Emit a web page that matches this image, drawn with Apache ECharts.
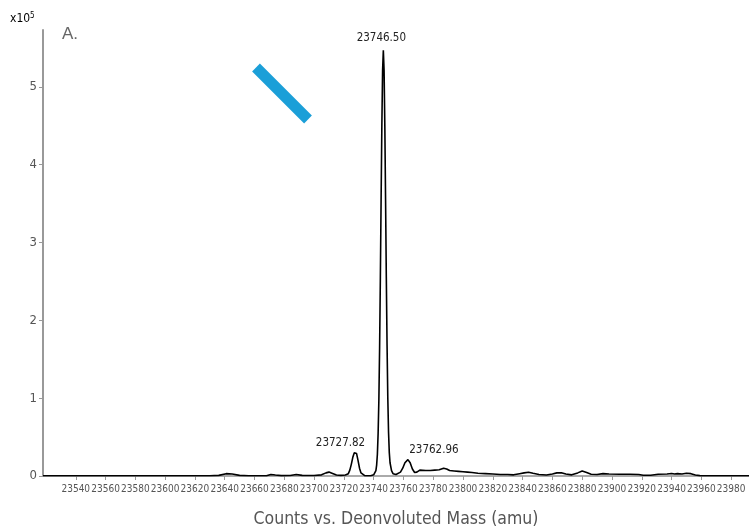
<!DOCTYPE html>
<html>
<head>
<meta charset="utf-8">
<script src="https://cdn.jsdelivr.net/npm/echarts@6/dist/echarts.min.js"></script>
<style>
html,body{margin:0;padding:0;background:#fff;}
#c{width:749px;height:527px;}
</style>
</head>
<body>
<div id="c"></div>
<script>
// Deconvoluted mass (amu)
const mass = [
23518,23630,23636,23641,23645,23650,23656,23668,23671,23674,23678,23684,23688,23692,23700,
23705,23708,23710,23712,23715,23718,23721,23722,23723,23724,23725,23726,23727,23727.8,23728.5,
23729.5,23730.5,23731.5,23732.5,23734,23736,23738,23740,23741,23741.5,23742,23742.5,23743,23743.5,
23744,23744.5,23745,23745.5,23746,23746.5,23747,23747.5,23748,23748.5,23749,23749.5,23750,23750.5,
23751,23752,23753,23755,23756,23758,23759.5,23761,23763,23764.5,23766,23767.5,23769,23771,23775,
23778,23781,23784,23787,23789,23791,23794,23797,23800,23803,23806,23810,23815,23820,23825,23830,
23834,23838,23841,23844,23847,23851,23856,23860,23863,23866,23869,23873,23877,23880,23883,23886,
23890,23894,23898,23905,23912,23918,23921,23926,23931,23937,23940,23942,23944,23947,23950,23953,
23956,23959,23970,23992
];
// Counts (x10^5)
const counts = [
0.003,0.003,0.008,0.03,0.025,0.008,0.004,0.004,0.02,0.012,0.005,0.006,0.02,0.008,0.006,
0.015,0.04,0.05,0.035,0.012,0.008,0.012,0.015,0.03,0.075,0.15,0.24,0.30,0.31,0.29,
0.20,0.10,0.04,0.015,0.005,0.004,0.004,0.015,0.04,0.07,0.14,0.28,0.55,0.98,
1.65,2.55,3.55,4.50,5.21,5.47,5.21,4.50,3.55,2.55,1.68,1.00,0.56,0.30,
0.17,0.07,0.03,0.02,0.02,0.05,0.10,0.17,0.21,0.17,0.09,0.045,0.05,0.075,0.07,
0.07,0.075,0.08,0.10,0.09,0.07,0.065,0.06,0.055,0.05,0.045,0.035,0.03,0.025,0.02,0.02,
0.015,0.03,0.04,0.048,0.035,0.02,0.012,0.025,0.04,0.042,0.025,0.015,0.04,0.065,0.045,0.022,
0.02,0.03,0.025,0.022,0.022,0.02,0.01,0.01,0.022,0.025,0.033,0.025,0.03,0.025,0.035,0.03,
0.012,0.005,0.004,0.004
];
// Labelled peaks
const peakMass = [23746.5, 23727.8, 23763];
const peakCounts = [5.47, 0.31, 0.21];
const peakLabels = ['23746.50', '23727.82', '23762.96'];
// Axis ticks
const xTicks = [23540,23560,23580,23600,23620,23640,23660,23680,23700,23720,23740,23760,23780,23800,23820,23840,23860,23880,23900,23920,23940,23960,23980];
const yTicks = [0,1,2,3,4,5];

const FONT = '"DejaVu Sans Condensed","Liberation Sans Narrow",sans-serif';
const labelOffsets = [[-2,-12],[-15,-9],[26,-10]];

const chart = echarts.init(document.getElementById('c'));
chart.setOption({
  animation: false,
  grid: {left: 43, right: 0, top: 30, bottom: 51, outerBoundsMode: 'none', containLabel: false},
  xAxis: {
    type: 'value', min: 23518, max: 23992, offset: 3,
    name: 'Counts vs. Deonvoluted Mass (amu)', nameLocation: 'middle', nameGap: 31,
    nameTextStyle: {fontFamily: FONT, fontSize: 17.5, color: '#555'},
    axisLine: {lineStyle: {color: '#aaa', width: 2}},
    axisTick: {show: true, customValues: xTicks, length: 4, lineStyle: {color: '#999'}},
    axisLabel: {customValues: xTicks, formatter: v => String(v), hideOverlap: false,
      showMinLabel: true, showMaxLabel: true,
      fontFamily: FONT, fontSize: 10, color: '#555', margin: 5},
    splitLine: {show: false}
  },
  yAxis: {
    type: 'value', min: 0, max: 5.73,
    axisLine: {show: true, lineStyle: {color: '#999', width: 2}},
    axisTick: {show: true, customValues: yTicks, length: 4, lineStyle: {color: '#999'}},
    axisLabel: {customValues: yTicks, fontFamily: FONT, fontSize: 13, color: '#555', margin: 6},
    splitLine: {show: false}
  },
  series: [{
    type: 'line',
    data: mass.map((m, i) => [m, counts[i]]),
    showSymbol: false,
    symbol: 'none',
    lineStyle: {color: '#000', width: 1.6},
    markPoint: {
      symbol: 'circle', symbolSize: 0,
      data: peakMass.map((m, i) => ({
        coord: [m, peakCounts[i]], value: peakLabels[i],
        label: {show: true, position: 'inside', offset: labelOffsets[i], formatter: peakLabels[i],
          fontFamily: FONT, fontSize: 11.5, color: '#222'}
      }))
    }
  }],
  graphic: [
    {type: 'text', left: 10, top: 12, style: {text: '{a|x10}{b|5}', rich: {
      a: {fontFamily: FONT, fontSize: 12, color: '#555'},
      b: {fontFamily: FONT, fontSize: 8, color: '#555', verticalAlign: 'top', padding: [0,0,6,0]}}}},
    {type: 'text', left: 62, top: 26, style: {text: 'A.', fontFamily: '"Liberation Sans",sans-serif', fontSize: 17, fill: '#666'}},
    {type: 'line', shape: {x1: 256, y1: 67.5, x2: 308, y2: 119.5}, style: {stroke: '#1b9fd8', lineWidth: 11}}
  ]
});
</script>
</body>
</html>
